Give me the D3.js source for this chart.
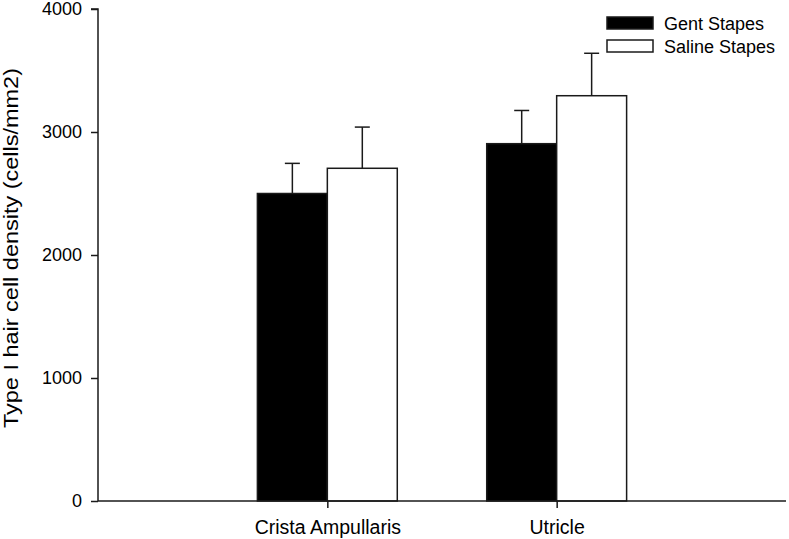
<!DOCTYPE html>
<html>
<head>
<meta charset="utf-8">
<script src="https://cdn.jsdelivr.net/npm/d3@7"></script>
<style>
  html, body { margin: 0; padding: 0; background: #fff; }
  svg { display: block; }
  text { font-family: Arial, "Liberation Sans", Helvetica, sans-serif; fill: #000; }
</style>
</head>
<body>
<svg id="chart" width="789" height="539"></svg>
<script>
const categories = ["Crista Ampullaris", "Utricle"];
const seriesNames = ["Gent Stapes", "Saline Stapes"];
const gentValues = [2500, 2905];
const salineValues = [2705, 3295];
const gentErrors = [245, 270];
const salineErrors = [335, 345];
const yTicks = [0, 1000, 2000, 3000, 4000];
const yLabel = "Type I hair cell density (cells/mm2)";

const svg = d3.select("#chart");
const mLeft = 98, mRight = 786, mTop = 9, mBottom = 501;

const x = d3.scalePoint().domain(categories).range([mLeft, mRight]).padding(1);
const step = x.step();
const barW = step * 0.305;
const sub = d3.scaleBand().domain(seriesNames).range([-barW, barW]).padding(0);
const y = d3.scaleLinear().domain([0, 4000]).range([mBottom, mTop]);

const series = [
  { name: seriesNames[0], values: gentValues, errors: gentErrors, fill: "#000" },
  { name: seriesNames[1], values: salineValues, errors: salineErrors, fill: "#fff" }
];

const stroke = "#1a1a1a";

// bars
series.forEach(s => {
  const g = svg.append("g");
  categories.forEach((c, i) => {
    const x0 = x(c) + sub(s.name);
    const v = s.values[i], e = s.errors[i];
    g.append("rect")
      .attr("x", x0).attr("y", y(v))
      .attr("width", sub.bandwidth()).attr("height", y(0) - y(v))
      .attr("fill", s.fill).attr("stroke", stroke).attr("stroke-width", 1.5);
    const cx = x0 + sub.bandwidth() / 2;
    g.append("line")
      .attr("x1", cx).attr("x2", cx).attr("y1", y(v)).attr("y2", y(v + e))
      .attr("stroke", stroke).attr("stroke-width", 1.5);
    g.append("line")
      .attr("x1", cx - 7.5).attr("x2", cx + 7.5).attr("y1", y(v + e)).attr("y2", y(v + e))
      .attr("stroke", stroke).attr("stroke-width", 1.5);
  });
});

// y axis
const yAxis = d3.axisLeft(y).tickValues(yTicks).tickSize(7).tickPadding(9).tickFormat(d3.format("d"));
const yg = svg.append("g").attr("transform", `translate(${mLeft},0)`).call(yAxis);
yg.select(".domain").attr("d", `M-7,${mTop}H0V${mBottom}`).attr("stroke", stroke).attr("stroke-width", 1.5);
yg.selectAll(".tick line").attr("stroke", stroke).attr("stroke-width", 1.5);
yg.selectAll(".tick text").attr("font-size", 18).style("font-family", "Arial, 'Liberation Sans', sans-serif").attr("fill", "#000");

// x axis
const xAxis = d3.axisBottom(x).tickSize(7).tickPadding(12);
const xg = svg.append("g").attr("transform", `translate(0,${mBottom})`).call(xAxis);
xg.select(".domain").attr("d", `M${mLeft},0H${mRight}`).attr("stroke", stroke).attr("stroke-width", 1.5);
xg.selectAll(".tick line").attr("stroke", stroke).attr("stroke-width", 1.5);
xg.selectAll(".tick text").attr("font-size", 19.5).style("font-family", "Arial, 'Liberation Sans', sans-serif").attr("fill", "#000");

// y label
svg.append("text")
  .attr("transform", `translate(18,248) rotate(-90)`)
  .attr("text-anchor", "middle")
  .attr("font-size", 21)
  .attr("textLength", 360)
  .attr("lengthAdjust", "spacingAndGlyphs")
  .text(yLabel);

// legend
const lg = svg.append("g").attr("transform", "translate(607,17)");
series.forEach((s, i) => {
  const row = lg.append("g").attr("transform", `translate(0,${i * 23})`);
  row.append("rect").attr("x", 0).attr("y", 0).attr("width", 46).attr("height", 12)
    .attr("fill", s.fill).attr("stroke", stroke).attr("stroke-width", 1.5);
  row.append("text").attr("x", 57).attr("y", 13).attr("font-size", 18).text(s.name);
});
</script>
</body>
</html>
